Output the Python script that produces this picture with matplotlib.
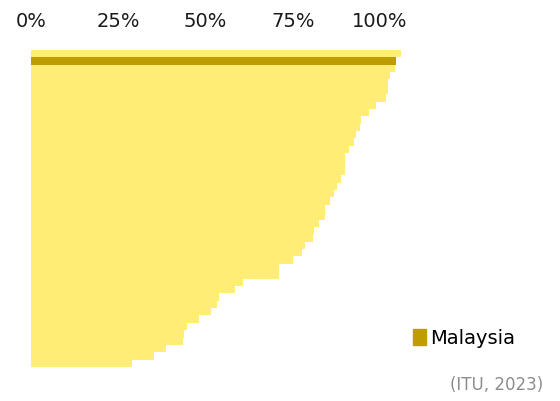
import matplotlib
matplotlib.use("Agg")
import matplotlib.pyplot as plt
from matplotlib.patches import Patch

# share of population (%), sorted high to low; Malaysia is 2nd
values = [106.0, 104.6, 104.3, 102.9, 102.4, 102.3, 101.6, 98.9, 96.8, 94.6,
          94.3, 93.1, 92.6, 91.1, 90.0, 90.0, 90.0, 88.7, 87.6, 86.9,
          85.7, 84.2, 84.2, 82.5, 81.1, 80.7, 78.5, 77.6, 75.0, 71.1,
          71.1, 60.7, 58.3, 53.8, 53.2, 51.7, 48.2, 44.6, 43.9, 43.5,
          38.7, 35.2, 28.9]
highlight = 1
highlight_label = "Malaysia"
tick_values = [0, 25, 50, 75, 100]
tick_labels = ["0%", "25%", "50%", "75%", "100%"]
source = "(ITU, 2023)"

light = "#FFED75"
dark = "#BF9C00"

fig = plt.figure(figsize=(5.6, 4.01), dpi=100)
ax = fig.add_axes([31 / 560, 34 / 401, 384 / 560, 317 / 401])

ypos = list(range(len(values)))
others = [v if i != highlight else 0 for i, v in enumerate(values)]
ax.barh(ypos, others, height=1.0, color=light, linewidth=0)
# the highlighted bar sits on top, a touch thicker
ax.barh(highlight, values[highlight], height=1.1, color=dark, linewidth=0)

ax.set_xlim(0, 110)
ax.set_ylim(len(values) - 0.5, -0.5)

ax.xaxis.tick_top()
ax.set_xticks(tick_values)
ax.set_xticklabels(tick_labels, fontsize=14, color="#1a1a1a")
ax.tick_params(axis="x", length=0, pad=14)
ax.set_yticks([])
for s in ax.spines.values():
    s.set_visible(False)

leg = fig.legend(handles=[Patch(color=dark, label=highlight_label)],
                 loc="center left", bbox_to_anchor=(403 / 560, 1 - 338 / 401),
                 frameon=False, fontsize=14, handlelength=0.7, handleheight=0.9,
                 handletextpad=0.2, borderpad=0)

fig.text(543 / 560, 1 - 385 / 401, source, ha="right", va="center",
         fontsize=12, color="#8c8c8c")

fig.savefig("out.png", dpi=100)
